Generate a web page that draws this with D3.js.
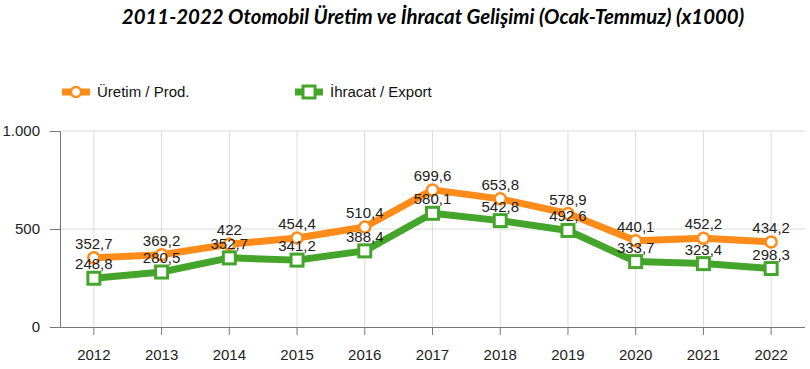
<!DOCTYPE html>
<html><head><meta charset="utf-8">
<script src="https://cdn.jsdelivr.net/npm/d3@7"></script>
<style>body{margin:0;background:#fff}svg{display:block}</style>
</head><body>
<svg id="c" width="810" height="369"></svg>
<script>
const years = ["2012","2013","2014","2015","2016","2017","2018","2019","2020","2021","2022"];
const production = [352.7,369.2,422,454.4,510.4,699.6,653.8,578.9,440.1,452.2,434.2];
const exportVals = [248.8,280.5,352.7,341.2,388.4,580.1,542.8,492.6,333.7,323.4,298.3];
const yTicks = [0,500,1000];
const titleText = "2011-2022 Otomobil Üretim ve İhracat Gelişimi (Ocak-Temmuz) (x1000)";
const seriesNames = ["Üretim / Prod.","İhracat / Export"];

const orange = "#ff8c1a", green = "#45a52a";
const svg = d3.select("#c");
const L=60, R=805, T=131, B=327;
const x = d3.scaleBand().domain(years).range([L,R]);
const cx = d => x(d)+x.bandwidth()/2;
const y = d3.scaleLinear().domain([0,1000]).range([B,T]);
const fmt = v => String(v).replace(".",",");
const yfmt = v => v===1000 ? "1.000" : String(v);

// title
const title = svg.append("text").attr("x",433).attr("y",24).attr("text-anchor","middle")
  .attr("font-family","Lato, 'Open Sans', sans-serif").attr("font-weight","bold").attr("font-style","italic")
  .attr("font-size",17).attr("fill","#000").text(titleText);
const tw = title.node().getComputedTextLength();
title.attr("font-size", 17*623/tw);

// grid
const g = svg.append("g");
g.selectAll("line.hg").data(yTicks.filter(d=>d>0)).join("line")
  .attr("x1",L).attr("x2",R).attr("y1",d=>y(d)).attr("y2",d=>y(d))
  .attr("stroke","#dcdcdc").attr("stroke-width",1);
g.selectAll("line.vg").data(years).join("line")
  .attr("x1",d=>cx(d)).attr("x2",d=>cx(d)).attr("y1",T).attr("y2",B)
  .attr("stroke","#dcdcdc").attr("stroke-width",1);

// axes
const ax = svg.append("g").attr("transform",`translate(0,${B})`)
  .call(d3.axisBottom(x).tickSize(8).tickPadding(14).tickSizeOuter(0));
ax.select(".domain").attr("stroke","#777").attr("d",`M${L-10},0.5H${R}`);
ax.selectAll(".tick line").attr("stroke","#777");
ax.selectAll("text").attr("font-family","'Liberation Sans', Arial, sans-serif").attr("font-size",15).attr("fill","#222");

const ay = svg.append("g").attr("transform",`translate(${L},0)`)
  .call(d3.axisLeft(y).tickValues(yTicks).tickFormat(yfmt).tickSize(10).tickPadding(10).tickSizeOuter(0));
ay.select(".domain").attr("stroke","#777");
ay.selectAll(".tick line").attr("stroke","#777");
ay.selectAll("text").attr("font-family","'Liberation Sans', Arial, sans-serif").attr("font-size",15).attr("fill","#222");

// lines
const line = d3.line().x((d,i)=>cx(years[i])).y(d=>y(d));
svg.append("path").datum(production).attr("d",line).attr("fill","none").attr("stroke",orange).attr("stroke-width",7).attr("stroke-linejoin","round");
svg.append("path").datum(exportVals).attr("d",line).attr("fill","none").attr("stroke",green).attr("stroke-width",7).attr("stroke-linejoin","round");

// labels
const lab = (data, dy) => svg.append("g").selectAll("text").data(data).join("text")
  .attr("x",(d,i)=>cx(years[i])).attr("y",d=>y(d)+dy).attr("text-anchor","middle")
  .attr("font-family","'Liberation Sans', Arial, sans-serif").attr("font-size",15).attr("fill","#222")
  .text(fmt);

// markers
svg.append("g").selectAll("circle").data(production).join("circle")
  .attr("cx",(d,i)=>cx(years[i])).attr("cy",d=>y(d)).attr("r",5.5)
  .attr("fill","#fff").attr("stroke",orange).attr("stroke-width",2.5);
svg.append("g").selectAll("rect").data(exportVals).join("rect")
  .attr("x",(d,i)=>cx(years[i])-6).attr("y",d=>y(d)-6).attr("width",12).attr("height",12)
  .attr("fill","#fff").attr("stroke",green).attr("stroke-width",3);

lab(production,-9);
lab(exportVals,-9);

// legend
const leg = svg.append("g");
const lx = [62,295];
const cols = [orange,green];
seriesNames.forEach((n,i)=>{
  leg.append("line").attr("x1",lx[i]).attr("x2",lx[i]+28).attr("y1",92).attr("y2",92).attr("stroke",cols[i]).attr("stroke-width",7);
  if(i===0) leg.append("circle").attr("cx",lx[i]+14).attr("cy",92).attr("r",5).attr("fill","#fff").attr("stroke",orange).attr("stroke-width",2.5);
  else leg.append("rect").attr("x",lx[i]+8).attr("y",86).attr("width",12).attr("height",12).attr("fill","#fff").attr("stroke",green).attr("stroke-width",3);
  leg.append("text").attr("x",lx[i]+35).attr("y",97).attr("font-family","'Liberation Sans', Arial, sans-serif").attr("font-size",15).attr("fill","#111").text(n);
});
</script>
</body></html>
